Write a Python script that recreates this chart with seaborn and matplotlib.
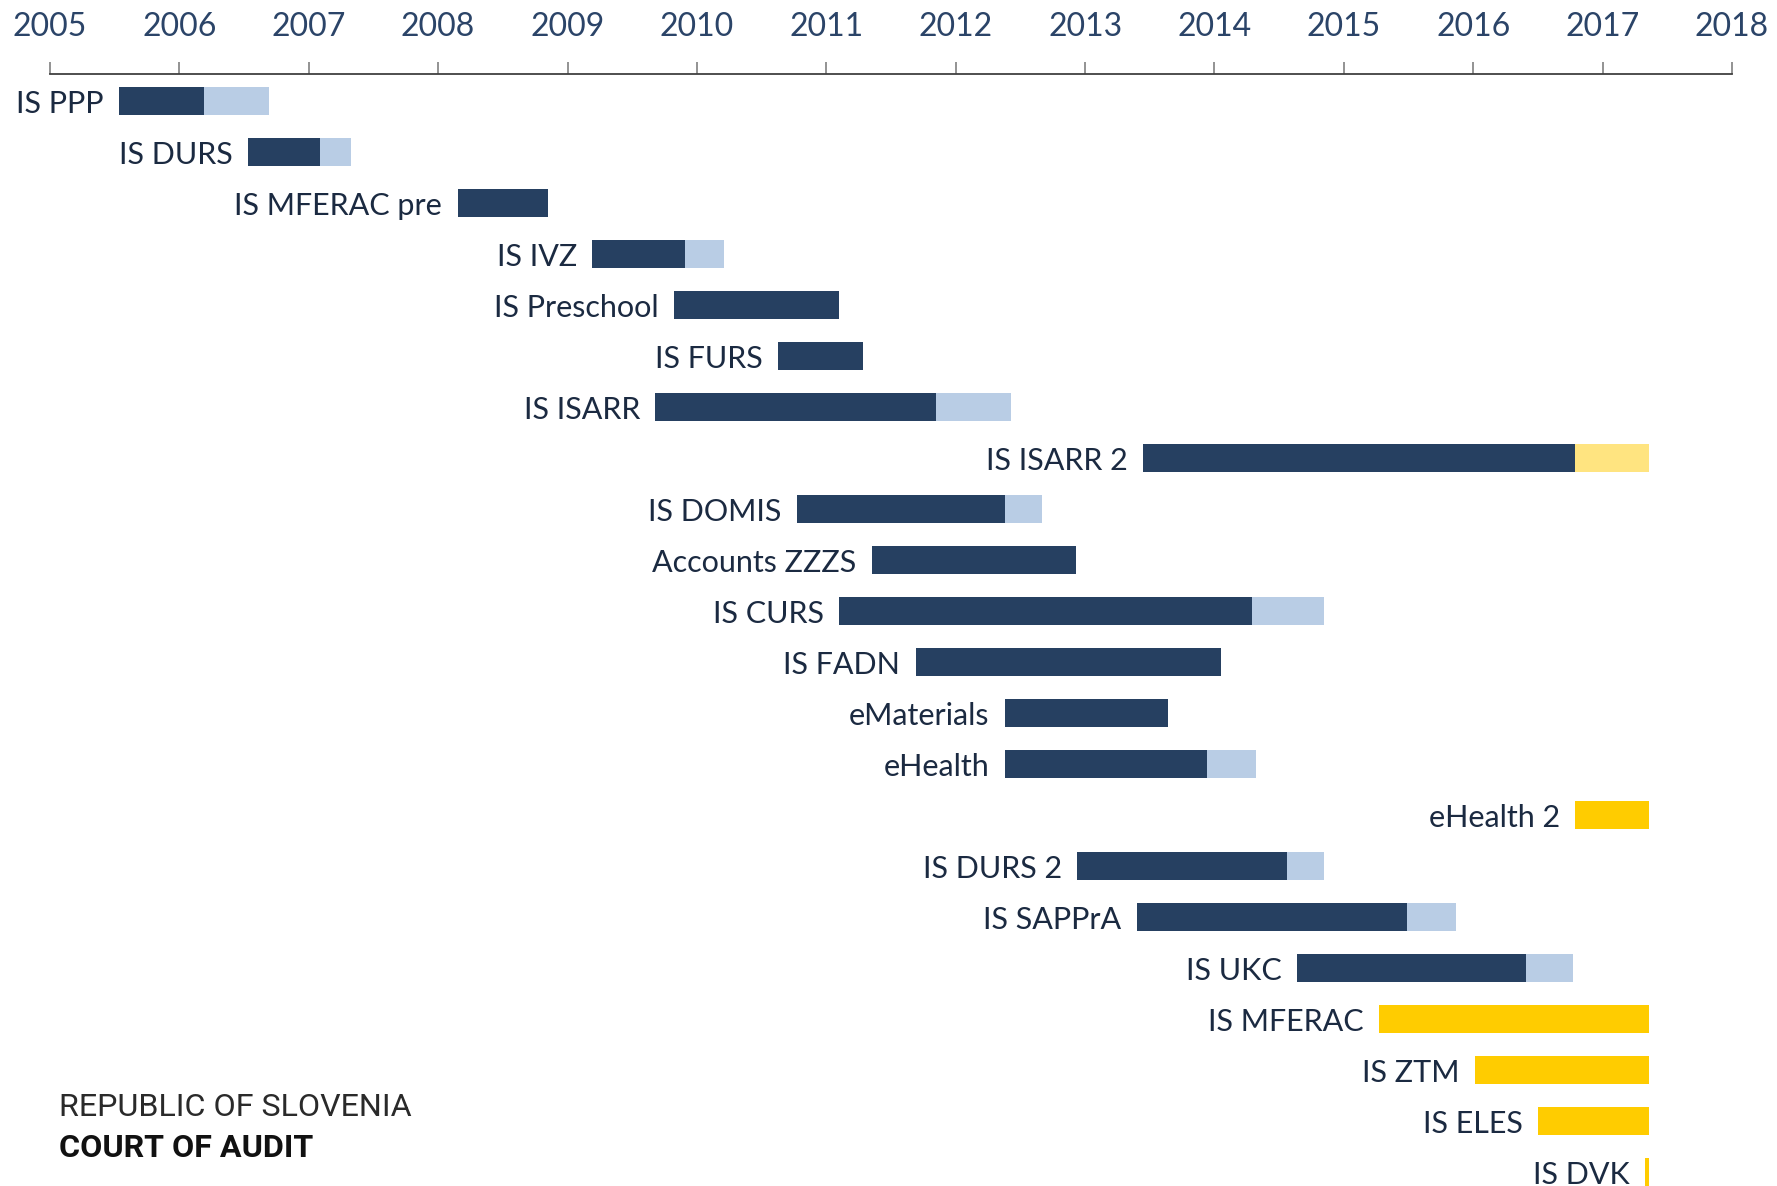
import numpy as np
import matplotlib.pyplot as plt
import seaborn as sns

# project timeline (years as decimals)
projects = ['IS PPP', 'IS DURS', 'IS MFERAC pre', 'IS IVZ', 'IS Preschool', 'IS FURS',
            'IS ISARR', 'IS ISARR 2', 'IS DOMIS', 'Accounts ZZZS', 'IS CURS', 'IS FADN',
            'eMaterials', 'eHealth', 'eHealth 2', 'IS DURS 2', 'IS SAPPrA', 'IS UKC',
            'IS MFERAC', 'IS ZTM', 'IS ELES', 'IS DVK']
start = [2005.53, 2006.53, 2008.15, 2009.19, 2009.82, 2010.63,
         2009.68, 2013.45, 2010.77, 2011.35, 2011.10, 2011.69,
         2012.38, 2012.38, 2016.79, 2012.94, 2013.40, 2014.64,
         2015.27, 2016.01, 2016.50, 2017.33]
planned_end = [2006.19, 2007.09, 2008.85, 2009.91, 2011.10, 2011.28,
               2011.85, 2016.79, 2012.38, 2012.93, 2014.29, 2014.05,
               2013.64, 2013.94, 2017.36, 2014.56, 2015.49, 2016.41,
               2017.36, 2017.36, 2017.36, 2017.36]
actual_end = [2006.69, 2007.33, 2008.85, 2010.21, 2011.10, 2011.28,
              2012.43, 2017.36, 2012.67, 2012.93, 2014.85, 2014.05,
              2013.64, 2014.32, 2017.36, 2014.85, 2015.87, 2016.77,
              2017.36, 2017.36, 2017.36, 2017.36]
status = ['done'] * 7 + ['ongoing'] + ['done'] * 6 + ['new'] + ['done'] * 3 + ['new'] * 4
years = list(range(2005, 2019))

main_col = {'done': '#264061', 'ongoing': '#264061', 'new': '#FFCC00'}
tail_col = {'done': '#B9CDE5', 'ongoing': '#FFE480', 'new': '#FFCC00'}

sns.set_theme(style='white')
plt.rcParams['font.family'] = ['Lato', 'DejaVu Sans']

fig = plt.figure(figsize=(17.77, 11.86), dpi=100)
ax = fig.add_axes([0.0281, 0.0, 0.9466, 0.9376])

y = np.arange(len(projects))
s = np.array(start)
m = np.array(planned_end)
e = np.array(actual_end)
ax.barh(y, m - s, left=s, height=0.55, color=[main_col[k] for k in status], linewidth=0)
ax.barh(y, e - m, left=m, height=0.55, color=[tail_col[k] for k in status], linewidth=0)

# labels sit just left of each bar
for yi, name, x0 in zip(y, projects, start):
    ax.annotate(name, (x0, yi), xytext=(-11, 0), textcoords='offset points',
                ha='right', va='center_baseline', fontsize=22, color='#1B2A41')

ax.set_xlim(2005, 2018)
ax.set_ylim(len(projects) - 1 + 0.27, -0.53)
ax.set_xticks(years)
ax.set_xticklabels([str(v) for v in years], fontsize=23, color='#2B4468')
ax.set_yticks([])
for side in ['left', 'right', 'bottom']:
    ax.spines[side].set_visible(False)
ax.spines['top'].set_color('#404040')
ax.spines['top'].set_linewidth(1.3)
ax.tick_params(axis='x', top=True, bottom=False, labeltop=True, labelbottom=False,
               direction='out', length=9, width=1.2, color='#808080', pad=14)

fig.text(0.033, 0.066, 'REPUBLIC OF SLOVENIA', fontsize=23.2, color='#2A2A2A',
         family=['Roboto', 'DejaVu Sans'], va='center')
fig.text(0.033, 0.032, 'COURT OF AUDIT', fontsize=23.2, color='#111111',
         family=['Roboto', 'DejaVu Sans'], fontweight='bold', va='center')

fig.savefig('out.png', dpi=100)
